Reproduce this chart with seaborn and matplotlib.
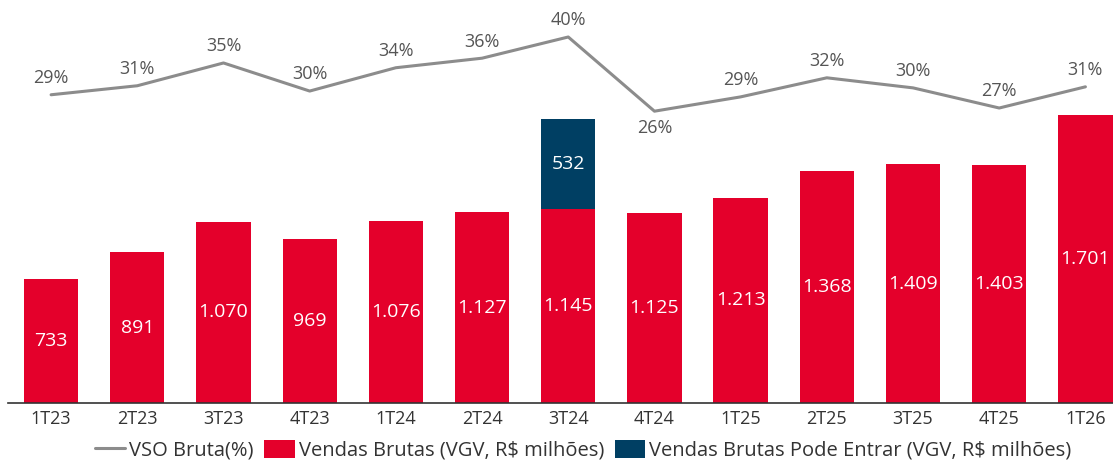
import matplotlib
matplotlib.use("Agg")
import matplotlib.pyplot as plt
import seaborn as sns
import pandas as pd
import numpy as np
from matplotlib.lines import Line2D
from matplotlib.patches import Patch

quarters = ["1T23", "2T23", "3T23", "4T23", "1T24", "2T24", "3T24",
            "4T24", "1T25", "2T25", "3T25", "4T25", "1T26"]
vendas = [733, 891, 1070, 969, 1076, 1127, 1145, 1125, 1213, 1368, 1409, 1403, 1701]
pode_entrar = [0, 0, 0, 0, 0, 0, 532, 0, 0, 0, 0, 0, 0]
vso = [29.1, 30.8, 35.1, 29.8, 34.2, 36.0, 40.0, 26.0, 28.7, 32.3, 30.4, 26.6, 30.6]

RED = "#E4002B"
NAVY = "#003F63"
LINE = "#8C8C8C"
TXT = "#555555"

sns.set_theme(style="white")
plt.rcParams["font.family"] = ["Open Sans", "DejaVu Sans"]

df = pd.DataFrame({"q": quarters, "vendas": vendas, "pode": pode_entrar,
                   "total": np.array(vendas) + np.array(pode_entrar), "vso": vso})

fig = plt.figure(figsize=(11.13, 4.61), dpi=100)
ax = fig.add_axes([8 / 1113, 58 / 461, 1105 / 1113, 403 / 461])

sns.barplot(data=df, x="q", y="total", color=NAVY, width=0.63, ax=ax,
            saturation=1, linewidth=0)
sns.barplot(data=df, x="q", y="vendas", color=RED, width=0.63, ax=ax,
            saturation=1, linewidth=0)
ax.set_xlim(-0.5, 12.32)
ax.set_ylim(0, 2380)
ax.set_xlabel("")
ax.set_ylabel("")
ax.set_yticks([])
for s in ["top", "right", "left"]:
    ax.spines[s].set_visible(False)
ax.spines["bottom"].set_color("#333333")
ax.spines["bottom"].set_linewidth(1.2)
ax.tick_params(axis="x", length=0, pad=5, labelsize=13, labelcolor="#333333")

for i, (v, p) in enumerate(zip(vendas, pode_entrar)):
    lab = f"{v:,}".replace(",", ".")
    ax.text(i, v / 2, lab, ha="center", va="center", color="white", fontsize=14)
    if p:
        ax.text(i, v + p / 2, f"{p}", ha="center", va="center", color="white", fontsize=14)

ax2 = ax.twinx()
sns.lineplot(x=np.arange(len(quarters)), y=vso, ax=ax2, color=LINE, linewidth=2.2)
ax2.set_ylim(-29.06, 46.98)
ax2.set_xlim(-0.5, 12.32)
ax2.set_yticks([])
ax2.set_ylabel("")
for s in ["top", "right", "left", "bottom"]:
    ax2.spines[s].set_visible(False)
for i, v in enumerate(vso):
    off = -12 if v == min(vso) else 12
    ax2.annotate(f"{round(v)}%", (i, v), xytext=(0, off), textcoords="offset points",
                 ha="center", va="center", color=TXT, fontsize=13)

handles = [Line2D([0], [0], color=LINE, lw=2.2),
           Patch(facecolor=RED, edgecolor="none"),
           Patch(facecolor=NAVY, edgecolor="none")]
labels = ["VSO Bruta(%)", "Vendas Brutas (VGV, R$ milhões)",
          "Vendas Brutas Pode Entrar (VGV, R$ milhões)"]
leg = fig.legend(handles, labels, loc="center", bbox_to_anchor=(583 / 1113, 1 - 450 / 461),
                 ncol=3, frameon=False, fontsize=14.5, handlelength=1.5, handleheight=1.0,
                 handletextpad=0.2, columnspacing=0.55)
for t in leg.get_texts():
    t.set_color("#333333")

fig.savefig("out.png", dpi=100)
